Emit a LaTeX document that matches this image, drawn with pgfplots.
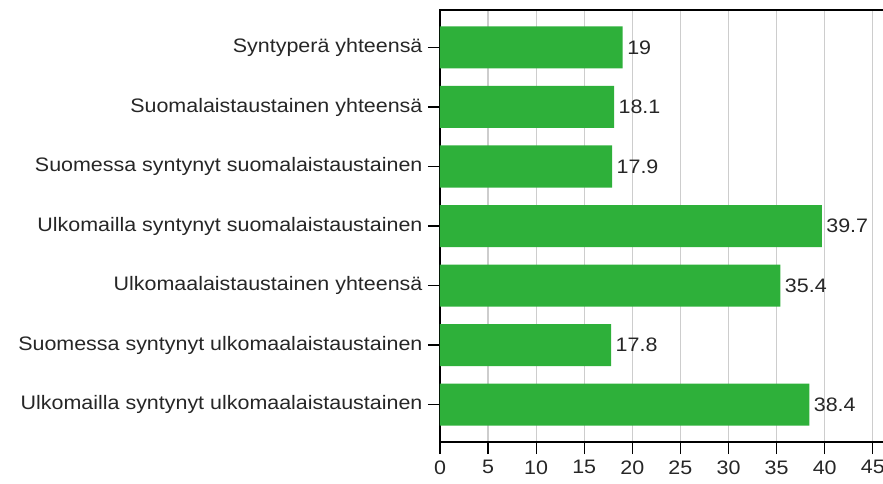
\documentclass[border=0pt]{standalone}
\usepackage{fontspec}
\setmainfont{Liberation Sans}[FakeStretch=1.1]
\usepackage{pgfplots}
\pgfplotsset{compat=1.18}
\definecolor{barg}{RGB}{46,176,58}
\definecolor{gridg}{RGB}{205,205,205}
\begin{document}
\begin{tikzpicture}[x=1pt,y=1pt]
\useasboundingbox (-440,-41) rectangle (443,442);
\clip (-440,-41) rectangle (443,442);
\begin{axis}[
  at={(0,0)}, anchor=south west,
  scale only axis,
  width=452pt, height=432pt,
  xmin=0, xmax=47,
  ymin=-0.63, ymax=6.63,
  y dir=reverse,
  xbar, bar width=42pt,
  xtick={0,5,...,45},
  ytick={0,...,6},
  yticklabels={Syntyperä yhteensä,Suomalaistaustainen yhteensä,Suomessa syntynyt suomalaistaustainen,Ulkomailla syntynyt suomalaistaustainen,Ulkomaalaistaustainen yhteensä,Suomessa syntynyt ulkomaalaistaustainen,Ulkomailla syntynyt ulkomaalaistaustainen},
  tick align=outside,
  major tick length=12pt,
  tick style={black, line width=1.2pt},
  xtick pos=bottom, ytick pos=left,
  xmajorgrids, grid style={gridg, line width=1.3pt},
  axis line style={line width=1.3pt, black},
  /pgf/number format/assume math mode=true,
  ticklabel style={font=\fontsize{19.5}{23}\selectfont, text=black!85},
  yticklabel style={xshift=-2pt},
  xticklabel style={yshift=-3pt},
  nodes near coords,
  nodes near coords style={font=\fontsize{19.5}{23}\selectfont, text=black!85, anchor=west, xshift=1pt},
  point meta=explicit symbolic,
]
\addplot[fill=barg, draw=none] coordinates {
 (19,0) [19]
 (18.1,1) [18.1]
 (17.9,2) [17.9]
 (39.7,3) [39.7]
 (35.4,4) [35.4]
 (17.8,5) [17.8]
 (38.4,6) [38.4]
};
\end{axis}
\end{tikzpicture}
\end{document}
